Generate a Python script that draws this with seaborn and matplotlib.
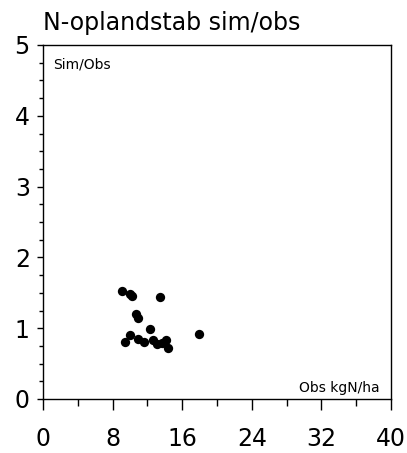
import numpy as np
import pandas as pd
import matplotlib
matplotlib.use("Agg")
import matplotlib.pyplot as plt
import seaborn as sns
from matplotlib.ticker import MultipleLocator

# Obs kgN/ha vs Sim/Obs ratio
obs_kgn = [9.05, 9.95, 10.2, 13.5, 10.7, 10.95, 12.33, 17.96, 9.97,
           9.43, 10.92, 11.64, 12.68, 13.10, 13.64, 14.1, 14.4]
sim_obs = [1.53, 1.48, 1.46, 1.44, 1.20, 1.14, 0.99, 0.92, 0.90,
           0.81, 0.85, 0.80, 0.83, 0.78, 0.79, 0.83, 0.72]

x_ticks = [0, 8, 16, 24, 32, 40]
y_ticks = [0, 1, 2, 3, 4, 5]

df = pd.DataFrame({"obs": obs_kgn, "ratio": sim_obs})

sns.set_style("ticks")
plt.rcParams["font.family"] = ["DejaVu Sans"]
plt.rcParams["text.color"] = "black"
plt.rcParams["xtick.color"] = "black"
plt.rcParams["ytick.color"] = "black"

fig = plt.figure(figsize=(4.07, 4.53), dpi=100)
ax = fig.add_axes([43 / 407, 1 - 399 / 453, 348 / 407, 354 / 453])

sns.scatterplot(data=df, x="obs", y="ratio", color="black", s=45,
                edgecolor="black", linewidth=0, ax=ax)

ax.set_xlim(0, 40)
ax.set_ylim(0, 5)
ax.set_xticks(x_ticks)
ax.set_yticks(y_ticks)
ax.xaxis.set_minor_locator(MultipleLocator(4))
ax.yaxis.set_minor_locator(MultipleLocator(0.25))
ax.tick_params(axis="x", which="major", length=8, width=1, pad=12, labelsize=17)
ax.tick_params(axis="x", which="minor", length=5, width=1)
ax.tick_params(axis="y", which="major", length=4.5, width=1, pad=5, labelsize=17)
ax.tick_params(axis="y", which="minor", length=3, width=1)
for sp in ax.spines.values():
    sp.set_visible(True)
    sp.set_linewidth(1)
    sp.set_color("black")
ax.set_xlabel("")
ax.set_ylabel("")

ax.text(0.028, 0.966, "Sim/Obs", transform=ax.transAxes, ha="left", va="top", fontsize=10)
ax.text(0.967, 0.012, "Obs kgN/ha", transform=ax.transAxes, ha="right", va="bottom", fontsize=10)
ax.set_title("N-oplandstab sim/obs", loc="left", fontsize=17, pad=11)

fig.savefig("out.png", dpi=100)
